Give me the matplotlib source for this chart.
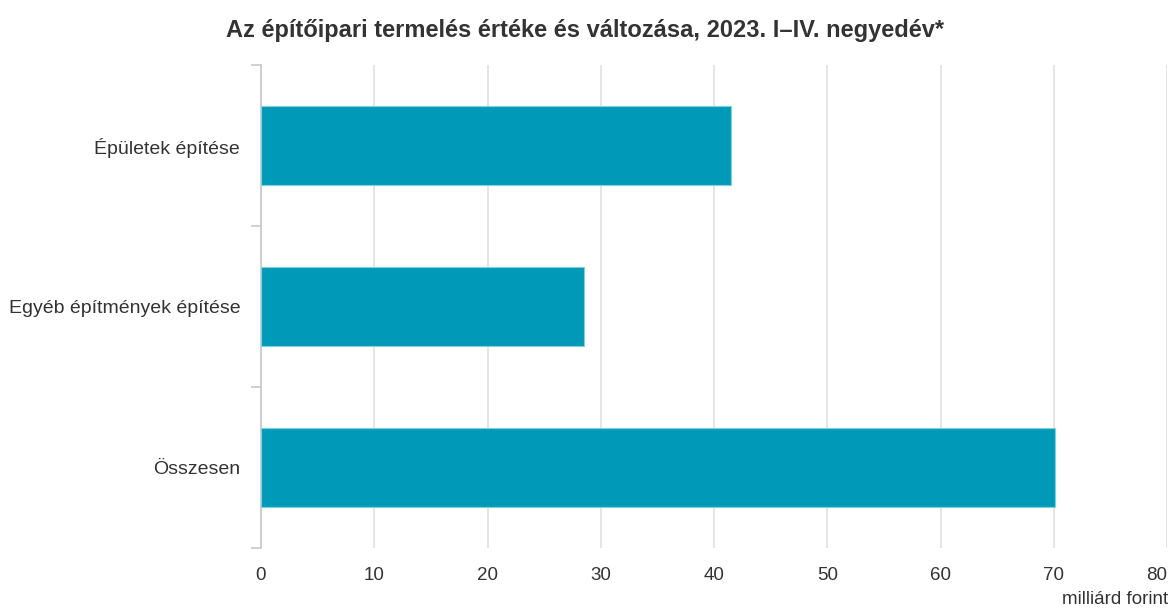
import matplotlib.pyplot as plt

plt.rcParams['font.family'] = ['Liberation Sans', 'DejaVu Sans']

# --- Data ---
categories = ['Épületek építése', 'Egyéb építmények építése', 'Összesen']
values = [41.5, 28.5, 70.1]
ticks = [0, 10, 20, 30, 40, 50, 60, 70, 80]

fig = plt.figure(figsize=(11.73, 6.10), dpi=100)
ax = fig.add_axes([261 / 1173, 1 - 548 / 610, (1167 - 261) / 1173, (548 - 65) / 610])

pos = list(range(len(categories)))
ax.barh(pos, values, height=0.49, color='#0099b8', edgecolor='#7fd0e0', linewidth=0.8, zorder=3)

ax.set_ylim(len(categories) - 0.5, -0.5)
ax.set_xlim(0, 80)
ax.set_xticks(ticks)
ax.set_xticklabels([str(t) for t in ticks])
# last label is pushed inside the chart, like in the original
ax.get_xticklabels()[-1].set_horizontalalignment('right')

# category labels in the middle, tick marks on the band boundaries
ax.set_yticks(pos)
ax.set_yticklabels(categories)
ax.tick_params(axis='y', length=0, pad=15, labelsize=14, labelcolor='#333333')
ax.set_yticks([p - 0.5 for p in pos] + [len(categories) - 0.5], minor=True)
ax.tick_params(axis='y', which='minor', length=7, color='#c8c8c8', width=1.2)
ax.tick_params(axis='x', length=0, pad=14, labelsize=13.5, labelcolor='#333333')

ax.grid(axis='x', color='#e0e0e0', linewidth=1.2, zorder=0)
for s in ['top', 'right', 'bottom']:
    ax.spines[s].set_visible(False)
ax.spines['left'].set_color('#c8c8c8')
ax.spines['left'].set_linewidth(1.2)

fig.text(585 / 1173, 1 - 30 / 610, 'Az építőipari termelés értéke és változása, 2023. I–IV. negyedév*',
         ha='center', va='center', fontsize=17, fontweight='bold', color='#333333')
fig.text(1168 / 1173, 1 - 599 / 610, 'milliárd forint', ha='right', va='center',
         fontsize=13.5, color='#333333')

fig.savefig('out.png', dpi=100)
